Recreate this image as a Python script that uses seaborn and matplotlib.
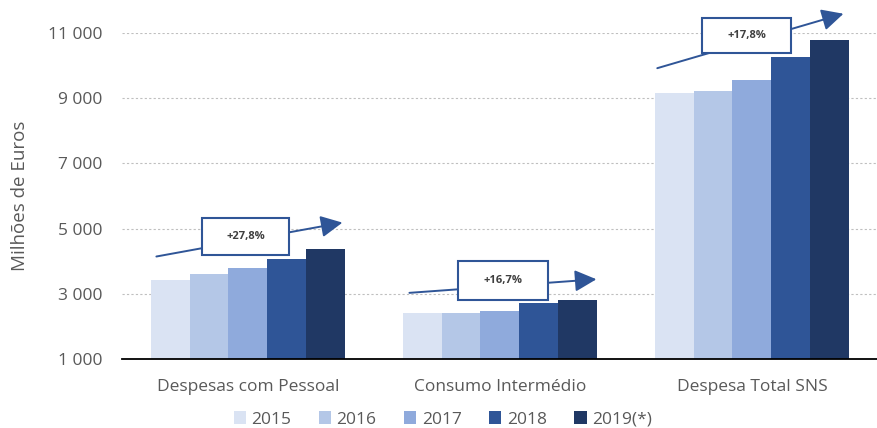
import pandas as pd
import matplotlib.pyplot as plt
import seaborn as sns
from matplotlib.patches import Rectangle

# Data (milhões de euros)
categories = ["Despesas com Pessoal", "Consumo Intermédio", "Despesa Total SNS"]
years = ["2015", "2016", "2017", "2018", "2019(*)"]
valores_2015 = [3430, 2400, 9150]
valores_2016 = [3600, 2410, 9230]
valores_2017 = [3800, 2470, 9550]
valores_2018 = [4070, 2720, 10250]
valores_2019 = [4385, 2800, 10780]
growth_labels = ["+27,8%", "+16,7%", "+17,8%"]
palette = ["#DAE3F3", "#B4C7E7", "#8FAADC", "#2F5597", "#203864"]

sns.set_theme(style="white")
plt.rcParams['font.family'] = ['Open Sans', 'DejaVu Sans']

df = pd.DataFrame({
    "Categoria": categories * 5,
    "Ano": [y for y in years for _ in categories],
    "Valor": valores_2015 + valores_2016 + valores_2017 + valores_2018 + valores_2019,
})

fig = plt.figure(figsize=(8.77, 4.28), dpi=100)
ax = fig.add_axes([0.139, 0.161, 0.862, 0.762])

sns.barplot(data=df, x="Categoria", y="Valor", hue="Ano", palette=palette,
            width=0.77, linewidth=0, saturation=1, ax=ax, legend=True)

ax.set_ylim(1000, 11000)
ax.set_yticks(range(1000, 11001, 2000))
ax.set_yticklabels([f"{v:,}".replace(",", " ") for v in range(1000, 11001, 2000)])
ax.set_xlim(-0.5, 2.5)
ax.yaxis.grid(True, linestyle=(0, (2, 2)), color="#BFBFBF", linewidth=0.8)
ax.set_axisbelow(True)
for s in ["top", "right", "left"]:
    ax.spines[s].set_visible(False)
ax.spines["bottom"].set_color("black")
ax.spines["bottom"].set_linewidth(1.3)
ax.tick_params(axis="both", length=0, colors="#595959", labelsize=12.5)
ax.tick_params(axis="x", pad=14)
ax.tick_params(axis="y", pad=14)
ax.set_xlabel("")
ax.set_ylabel("Milhões de Euros", color="#595959", fontsize=13.5, labelpad=14)

# growth arrows and boxes (offsets relative to each group centre)
arrows = [((-0.374, 4130), (0.386, 5200)),
          ((-0.37, 3025), (0.394, 3454)),
          ((-0.386, 9896), (0.374, 11613))]
boxes = [(-0.181, 4190, 0.346, 1135),
         (-0.165, 2810, 0.354, 1196),
         (-0.197, 10387, 0.351, 1073)]
for i, lab in enumerate(growth_labels):
    (x0, y0), (x1, y1) = arrows[i]
    ax.annotate("", xy=(i + x1, y1), xytext=(i + x0, y0),
                arrowprops=dict(arrowstyle="-|>,head_length=1.1,head_width=0.55",
                                color="#2F5597", lw=1.4),
                annotation_clip=False, zorder=4)
    bx, by, bw, bh = boxes[i]
    ax.add_patch(Rectangle((i + bx, by), bw, bh, facecolor="white",
                           edgecolor="#2F5597", linewidth=1.5, zorder=5,
                           clip_on=False))
    ax.text(i + bx + bw / 2, by + bh / 2, lab, ha="center", va="center",
            fontsize=8, fontweight="bold", color="#404040", zorder=6)

handles, labels = ax.get_legend_handles_labels()
ax.get_legend().remove()
fig.legend(handles, labels, loc="center", bbox_to_anchor=(0.505, 0.02), ncol=5,
           frameon=False, handlelength=0.7, handleheight=0.7, handletextpad=0.3,
           columnspacing=1.6, fontsize=12.5, labelcolor="#595959")

fig.savefig("out.png", dpi=100)
